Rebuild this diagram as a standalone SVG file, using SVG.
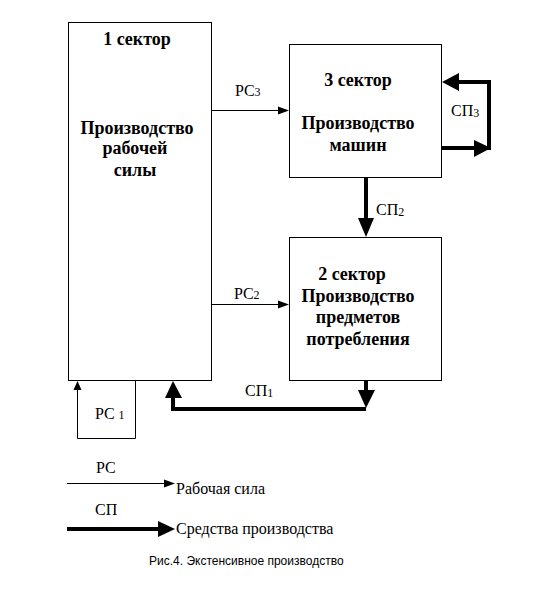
<svg xmlns="http://www.w3.org/2000/svg" width="554" height="608" viewBox="0 0 554 608">
<style>
.box{fill:#fff;stroke:#000;stroke-width:1}
.t{font-family:"Liberation Serif","Times New Roman",serif;font-size:18px;font-weight:bold;fill:#000;text-anchor:middle}
.l{font-family:"Liberation Serif","Times New Roman",serif;font-size:16px;fill:#000}
.thin{fill:none;stroke:#000;stroke-width:1}
.thick{fill:none;stroke:#000;stroke-width:4}
.ah{fill:#000}
.cap{font-family:"Liberation Sans",Arial,sans-serif;font-size:12px;fill:#000}
</style>
<rect width="554" height="608" fill="#fff"/>
<g id="sector1">
<rect class="box" x="68.5" y="22.5" width="143" height="358"/>
<text class="t" x="137" y="45">1 сектор</text>
<text class="t" x="137" y="134">Производство</text>
<text class="t" x="135" y="154">рабочей</text>
<text class="t" x="135" y="176">силы</text>
</g>
<g id="sector3">
<rect class="box" x="289.5" y="44.5" width="152" height="133"/>
<text class="t" x="358" y="86">3 сектор</text>
<text class="t" x="358" y="129">Производство</text>
<text class="t" x="358" y="151">машин</text>
</g>
<g id="sector2">
<rect class="box" x="289.5" y="237.5" width="152" height="143"/>
<text class="t" x="352" y="280">2 сектор</text>
<text class="t" x="358" y="302">Производство</text>
<text class="t" x="358" y="323">предметов</text>
<text class="t" x="358" y="345">потребления</text>
</g>
<g id="connectors">
<!-- PC3 -->
<path class="thin" d="M212 110.5H280"/>
<polygon class="ah" points="289,110.5 278,106.5 278,114.5"/>
<text class="l" x="235" y="96">PC<tspan font-size="12">3</tspan></text>
<!-- PC2 -->
<path class="thin" d="M212 304.5H280"/>
<polygon class="ah" points="289,304.5 278,300.5 278,308.5"/>
<text class="l" x="234" y="299">PC<tspan font-size="12">2</tspan></text>
<!-- SP2 -->
<path class="thick" d="M366 177V220"/>
<polygon class="ah" points="366,237 358,218 374,218"/>
<text class="l" x="376" y="215">СП<tspan font-size="12" dy="1">2</tspan></text>
<!-- SP3 -->
<path class="thick" d="M441 148H475M489 150V82H458"/>
<polygon class="ah" points="491,148 474,140 474,157"/>
<polygon class="ah" points="442,82 459,73 459,91"/>
<text class="l" x="451" y="116">СП<tspan font-size="12" dy="1">3</tspan></text>
<!-- SP1 -->
<path class="thick" d="M366 380V392M366 409H173V397"/>
<polygon class="ah" points="366,408 358,390 375,390"/>
<polygon class="ah" points="173,381 165,398 182,398"/>
<text class="l" x="245" y="396">СП<tspan font-size="12" dy="1">1</tspan></text>
<!-- PC1 -->
<path class="thin" d="M135.5 380V438.5H77.5V388"/>
<polygon class="ah" points="77.5,381 73.5,390 81.5,390"/>
<text class="l" x="95" y="419">PC <tspan font-size="12">1</tspan></text>
</g>
<g id="legend">
<text class="l" x="96" y="473">PC</text>
<path class="thin" d="M67 483.5H166"/>
<polygon class="ah" points="175,483.5 164,479.5 164,487.5"/>
<text class="l" x="176" y="494">Рабочая сила</text>
<text class="l" x="95" y="515">СП</text>
<path class="thick" d="M67 529H160"/>
<polygon class="ah" points="175,529 158,521 158,537"/>
<text class="l" x="176" y="534">Средства производства</text>
<text class="cap" x="149" y="565">Рис.4. Экстенсивное производство</text>
</g>
</svg>
